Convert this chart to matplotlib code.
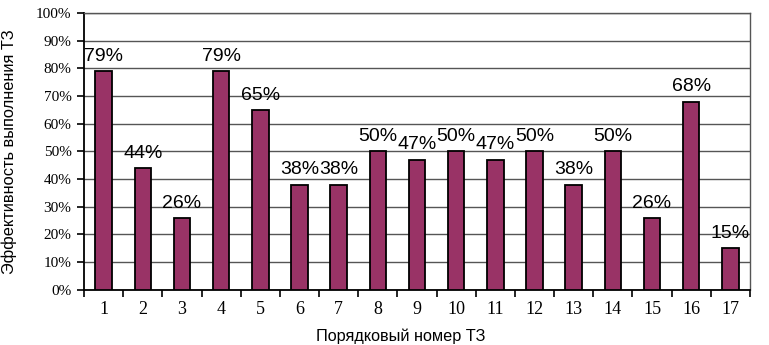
import matplotlib
matplotlib.use("Agg")
import matplotlib.pyplot as plt
import numpy as np

categories = [str(i) for i in range(1, 18)]
values = [79, 44, 26, 79, 65, 38, 38, 50, 47, 50, 47, 50, 38, 50, 26, 68, 15]
yticks = list(range(0, 101, 10))
ytick_labels = [f"{v}%" for v in yticks]

fig = plt.figure(figsize=(7.69, 3.45), dpi=100)
ax = fig.add_axes([84/769, 1-289.7/345, (750-84)/769, (289.7-13)/345])

x = np.arange(1, len(values) + 1)
ax.bar(x, values, width=0.42, color='#993366', edgecolor='black', linewidth=1.3, zorder=3)

for xi, v in zip(x, values):
    ax.annotate(f"{v}%", (xi, v), xytext=(0, 4.5), textcoords='offset points',
                ha='center', va='bottom', fontsize=14, family='Liberation Sans', zorder=4)

ax.set_xlim(0.5, len(values) + 0.5)
ax.set_ylim(0, 100)
ax.set_yticks(yticks)
ax.set_yticklabels(ytick_labels, family='Liberation Serif', fontsize=11)
ax.yaxis.grid(True, color='#555555', linewidth=1, zorder=0)

ax.set_xticks(np.arange(0.5, len(values) + 1, 1))
ax.set_xticklabels([])
ax.set_xticks(x, minor=True)
ax.set_xticklabels(categories, minor=True, family='Liberation Serif', fontsize=13)
ax.tick_params(axis='x', which='major', direction='out', length=5, width=1.2)
ax.tick_params(axis='x', which='minor', length=0, pad=8)
ax.tick_params(axis='y', direction='out', length=5, width=1.2, pad=4)

for s in ['left', 'bottom']:
    ax.spines[s].set_color('black')
    ax.spines[s].set_linewidth(1.3)
for s in ['top', 'right']:
    ax.spines[s].set_color('#555555')
    ax.spines[s].set_linewidth(1)

fig.text(401/769, 1-336/345, "Порядковый номер ТЗ", ha='center', va='center',
         fontsize=11.7, family='Liberation Sans')
fig.text(9/769, 1-152/345, "Эффективность выполнения ТЗ", ha='center', va='center',
         rotation=90, fontsize=11.8, family='Liberation Sans')

fig.savefig("out.png", dpi=100)
